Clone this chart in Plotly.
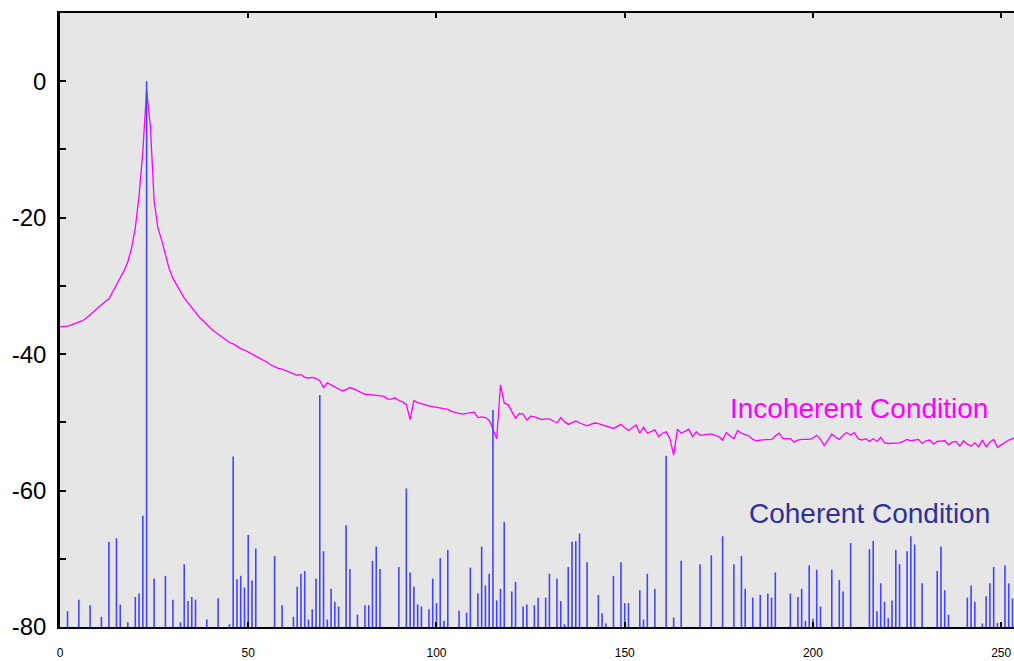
import plotly.graph_objects as go

# ---------------- data ----------------
# Coherent condition: spectral lines (bin index, level in dB)
coh_bins = [2, 5, 8, 11, 13, 15, 16, 18, 20, 21, 22, 23, 25, 28, 30, 32, 33, 34, 35, 36,
            39, 42, 45, 46, 47, 48, 49, 50, 51, 52, 57, 59, 62, 63, 64, 65, 66, 67, 68, 69,
            70, 71, 72, 73, 74, 76, 77, 79, 81, 82, 83, 84, 85, 90, 92, 93, 94, 95, 96, 98,
            99, 100, 101, 102, 103, 106, 108, 109, 111, 112, 113, 114, 115, 116, 117, 118, 120, 121, 123, 124,
            126, 127, 129, 130, 132, 133, 134, 135, 136, 137, 138, 140, 143, 144, 145, 147, 149, 150, 151, 154,
            155, 156, 158, 161, 163, 165, 170, 173, 176, 179, 181, 182, 184, 186, 188, 189, 190, 194, 196, 197,
            198, 199, 200, 201, 202, 205, 207, 208, 210, 215, 216, 217, 218, 219, 220, 221, 222, 223, 225, 226,
            227, 229, 233, 234, 235, 236, 241, 242, 243, 245, 246, 247, 248, 249, 251, 252, 253]
coh_db = [-77.7, -76.0, -76.8, -78.5, -67.5, -67.0, -76.7, -79.3, -75.6, -75.1, -63.7, 0.0, -72.9, -72.5, -76.0, -79.3, -70.8, -76.2, -75.6, -76.0,
          -78.9, -75.8, -79.6, -55.0, -73.0, -72.5, -74.2, -66.5, -73.2, -68.5, -69.6, -76.8, -78.5, -74.1, -72.2, -71.8, -78.9, -77.4, -72.9, -46.0,
          -68.9, -78.9, -74.4, -76.3, -77.0, -65.1, -71.5, -78.2, -76.8, -76.8, -70.3, -68.2, -71.5, -71.2, -59.7, -72.0, -74.1, -76.7, -77.0, -77.4,
          -72.9, -76.5, -69.9, -79.1, -68.7, -77.6, -77.9, -71.3, -75.1, -68.2, -73.9, -72.2, -48.2, -76.1, -74.4, -64.6, -74.8, -73.4, -77.0, -76.7,
          -76.8, -75.7, -75.7, -72.2, -72.9, -76.2, -79.6, -71.2, -67.5, -67.4, -66.3, -70.5, -75.3, -78.0, -79.5, -72.5, -70.5, -76.5, -76.5, -74.6,
          -78.9, -72.2, -74.4, -54.9, -78.6, -70.3, -70.8, -69.5, -66.7, -70.8, -69.6, -74.4, -75.7, -75.3, -75.1, -75.7, -72.0, -75.1, -75.6, -74.4,
          -79.1, -71.0, -78.8, -71.6, -77.0, -71.6, -73.1, -74.8, -67.7, -68.6, -67.4, -77.7, -73.6, -76.3, -78.7, -76.1, -68.7, -70.8, -68.9, -66.7,
          -67.9, -73.6, -71.8, -68.2, -74.6, -78.2, -75.7, -73.9, -76.3, -79.5, -75.5, -73.6, -71.2, -79.4, -71.0, -73.6, -75.8]

# Incoherent condition: level in dB for bins 0, 1, 2, ...
incoh_db = [
    -36.0, -36.0, -35.9, -35.7, -35.5, -35.3, -35.1, -34.7, -34.2, -33.7,
    -33.3, -32.8, -32.3, -31.9, -30.8, -29.9, -28.8, -27.8, -26.5, -24.5,
    -21.5, -16.8, -10.3, -1.3, -6.5, -17.5, -21.5, -23.3, -25.6, -27.5,
    -28.9, -29.9, -30.9, -31.8, -32.5, -33.2, -33.9, -34.6, -35.1, -35.7,
    -36.2, -36.7, -37.1, -37.5, -37.9, -38.3, -38.5, -38.9, -39.2, -39.4,
    -39.7, -39.9, -40.3, -40.5, -40.9, -41.2, -41.6, -41.9, -42.1, -42.2,
    -42.4, -42.6, -42.8, -43.1, -43.0, -43.4, -43.5, -43.4, -43.6, -43.9,
    -44.9, -44.2, -44.5, -44.8, -45.2, -45.4, -45.2, -44.9, -45.1, -45.4,
    -45.6, -45.9, -45.9, -46.0, -46.0, -46.1, -46.2, -46.6, -46.6, -46.4,
    -46.8, -47.0, -47.4, -49.6, -46.8, -47.1, -47.3, -47.4, -47.6, -47.7,
    -47.8, -47.9, -48.0, -48.1, -48.4, -48.6, -48.7, -48.8, -48.7, -48.5,
    -48.5, -49.3, -49.2, -49.3, -49.7, -51.0, -52.4, -44.5, -47.2, -47.4,
    -48.5, -49.4, -48.7, -48.8, -49.7, -49.1, -49.2, -49.4, -49.6, -49.5,
    -49.5, -49.8, -50.1, -49.3, -49.9, -50.3, -50.0, -49.8, -50.1, -50.3,
    -50.5, -50.3, -50.1, -50.2, -50.4, -50.5, -50.7, -50.9, -50.6, -50.3,
    -50.8, -51.2, -50.8, -50.4, -51.6, -50.7, -51.6, -51.3, -51.1, -52.1,
    -51.6, -51.4, -52.4, -54.8, -51.0, -51.6, -51.3, -51.0, -52.1, -51.4,
    -51.9, -51.8, -51.7, -51.7, -51.9, -52.1, -52.6, -51.5, -52.0, -52.4,
    -51.2, -51.6, -51.8, -52.0, -52.5, -52.7, -52.6, -52.6, -52.5, -52.5,
    -52.0, -51.6, -52.4, -52.4, -52.4, -52.9, -52.6, -52.5, -52.5, -52.5,
    -52.3, -51.9, -52.5, -53.4, -52.6, -51.7, -52.2, -52.5, -51.9, -51.5,
    -51.9, -51.5, -52.4, -52.6, -52.4, -52.8, -52.4, -52.8, -52.2, -53.0,
    -53.1, -53.1, -53.1, -53.0, -52.8, -52.5, -52.7, -52.6, -52.5, -53.1,
    -52.7, -52.6, -53.2, -52.8, -52.8, -52.7, -53.3, -52.9, -52.8, -53.5,
    -52.7, -53.2, -53.5, -53.0, -53.6, -52.6, -53.6, -52.9, -52.5, -53.7,
    -53.3, -52.9, -52.6, -52.4, -52.2,
]
incoh_bins = list(range(len(incoh_db)))

x_tick_vals = [0, 50, 100, 150, 200, 250]
y_tick_vals = [-80, -70, -60, -50, -40, -30, -20, -10, 0]
y_tick_text = ["-80", "", "-60", "", "-40", "", "-20", "", "0"]
floor_db = -80

# ---------------- figure ----------------
# stems for the coherent spectrum (vertical lines from the floor)
stem_x, stem_y = [], []
for b, v in zip(coh_bins, coh_db):
    stem_x += [b, b, None]
    stem_y += [floor_db, v, None]

FONT = "Liberation Sans, Arial, sans-serif"

fig = go.Figure()
fig.add_trace(go.Scatter(
    x=incoh_bins, y=incoh_db, mode="lines",
    line=dict(color="#ff00ff", width=1.3),
    name="Incoherent Condition", hoverinfo="x+y",
))
fig.add_trace(go.Scatter(
    x=stem_x, y=stem_y, mode="lines",
    line=dict(color="#4444ff", width=1.6),
    name="Coherent Condition", connectgaps=False,
))

fig.add_annotation(
    x=212.2, y=-47.9, xref="x", yref="y", text="Incoherent Condition",
    showarrow=False, xanchor="center", yanchor="middle",
    font=dict(family=FONT, size=28, color="#ff00ff"),
)
fig.add_annotation(
    x=215.1, y=-63.4, xref="x", yref="y", text="Coherent Condition",
    showarrow=False, xanchor="center", yanchor="middle",
    font=dict(family=FONT, size=28, color="#30309a"),
)

fig.update_layout(
    width=1014, height=661,
    margin=dict(l=60, r=0, t=13, b=34),
    paper_bgcolor="white",
    plot_bgcolor="#e6e6e6",
    showlegend=False,
    font=dict(family=FONT, color="black"),
)
fig.update_xaxes(
    range=[0, 253.4], showline=True, linecolor="black", linewidth=2,
    mirror="ticks", ticks="inside", ticklen=5, tickwidth=2, tickcolor="black",
    tickvals=x_tick_vals, tickfont=dict(family=FONT, size=12, color="black"),
    ticklabelstandoff=14, showgrid=False, zeroline=False,
)
fig.update_yaxes(
    range=[-80, 10], showline=True, linecolor="black", linewidth=2.5,
    mirror=False, ticks="inside", ticklen=6, tickwidth=2, tickcolor="black",
    tickvals=y_tick_vals, ticktext=y_tick_text,
    tickfont=dict(family=FONT, size=24, color="black"),
    ticklabelstandoff=6, showgrid=False, zeroline=False,
)

fig.write_html("out.html")
